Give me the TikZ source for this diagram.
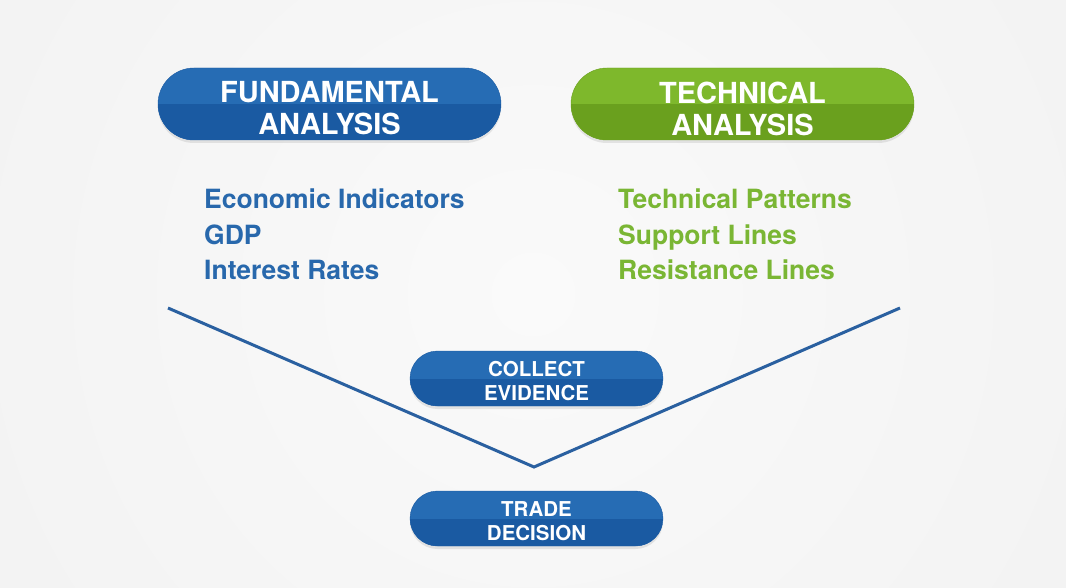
\documentclass[tikz,border=0pt]{standalone}
\usepackage{fontspec}
\setmainfont{TeX Gyre Heros}
\usetikzlibrary{positioning, shapes.misc, shadows}

\definecolor{bluetop}{RGB}{38,108,180}
\definecolor{bluebot}{RGB}{26,90,162}
\definecolor{greentop}{RGB}{126,184,44}
\definecolor{greenbot}{RGB}{106,160,30}
\definecolor{listblue}{RGB}{40,104,172}
\definecolor{listgreen}{RGB}{122,182,52}
\definecolor{vline}{RGB}{42,96,160}
\definecolor{bg0}{RGB}{250,250,250}
\definecolor{bg1}{RGB}{242,242,242}
\definecolor{bg2}{RGB}{226,226,226}
\definecolor{bg3}{RGB}{206,206,206}
\definecolor{bg4}{RGB}{172,172,172}
\pgfdeclareradialshading{vignette}{\pgfpointorigin}{%
  color(0bp)=(bg0); color(27bp)=(bg1); color(38bp)=(bg2);
  color(43bp)=(bg3); color(50bp)=(bg4)}

\begin{document}
\begin{tikzpicture}[x=1pt,y=-1pt,
    pill/.style={rounded rectangle, inner sep=0pt, fill=#1top, draw=#1bot,
      drop shadow={opacity=.18, shadow xshift=0pt, shadow yshift=-3pt},
      path picture={\fill[#1bot] (path picture bounding box.west)
        rectangle (path picture bounding box.south east);}},
    bigpill/.style={pill=#1, minimum width=343pt, minimum height=72pt},
    smallpill/.style={pill=#1, minimum width=253pt, minimum height=55pt},
    pilltext/.style={text=white, font=\bfseries\fontsize{29}{32}\selectfont,
      align=center, inner sep=0pt},
    smalltext/.style={pilltext, font=\bfseries\fontsize{20.5}{24}\selectfont},
    listtext/.style={text=#1, font=\bfseries\fontsize{26.5}{35.5}\selectfont,
      align=left, inner sep=0pt, anchor=north west},
    vee/.style={draw=vline, line width=3pt}]
  \useasboundingbox (0,0) rectangle (1066,588);
  \begin{scope}
    \clip (0,0) rectangle (1066,588);
    \shade[shading=vignette] (533,294) circle (620pt);
  \end{scope}

  % the two schools
  \node[bigpill=blue] (fund) at (329.5,104) {};
  \node[pilltext] (fundtxt) at ([yshift=-4.5pt]fund.center) {FUNDAMENTAL\\ANALYSIS};
  \node[bigpill=green] (tech) at (742.5,104) {};
  \node[pilltext] (techtxt) at ([yshift=-4.5pt]tech.center) {TECHNICAL\\ANALYSIS};

  \node[listtext=listblue] (fundlist) at (204,189)
    {Economic Indicators\\GDP\\Interest Rates};
  \node[listtext=listgreen] (techlist) at (618,189)
    {Technical Patterns\\Support Lines\\Resistance Lines};

  % funnel
  \coordinate (lend) at (168,308);
  \coordinate (vtx) at (534,467);
  \coordinate (rend) at (900,308);
  \draw[vee] (lend) -- (vtx) -- (rend);

  \node[smallpill=blue] (collect) at (536.5,378.5) {};
  \node[smalltext] (collecttxt) at ([yshift=-2.5pt]collect.center) {COLLECT\\EVIDENCE};
  \node[smallpill=blue] (trade) at (536.5,518.5) {};
  \node[smalltext] (tradetxt) at ([yshift=-2.5pt]trade.center) {TRADE\\DECISION};
\end{tikzpicture}
\end{document}
